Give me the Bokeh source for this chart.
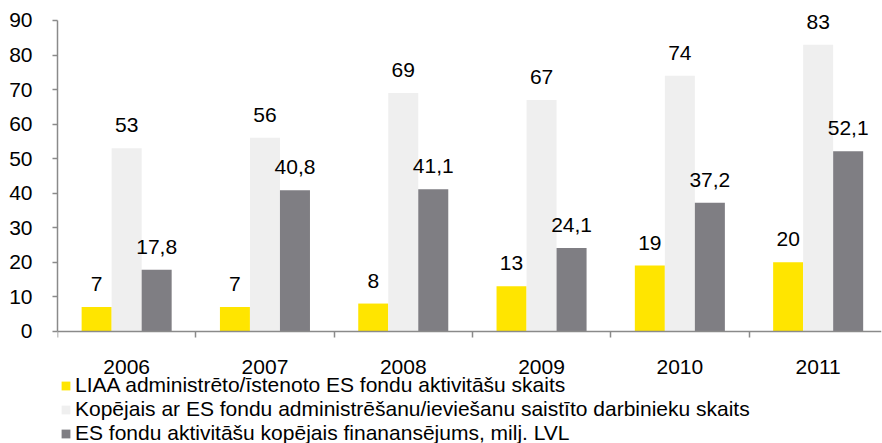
from bokeh.plotting import figure
from bokeh.models import Range1d, FixedTicker, ColumnDataSource, Legend, LegendItem
from bokeh.core.properties import value
from bokeh.embed import file_html
from bokeh.resources import INLINE

years = ["2006", "2007", "2008", "2009", "2010", "2011"]
liaa = [7, 7, 8, 13, 19, 20]
darbinieki = [53, 56, 69, 67, 74, 83]
finansejums = [17.8, 40.8, 41.1, 24.1, 37.2, 52.1]
series_names = [
    "LIAA administrēto/īstenoto ES fondu aktivitāšu skaits",
    "Kopējais ar ES fondu administrēšanu/ieviešanu saistīto darbinieku skaits",
    "ES fondu aktivitāšu kopējais finanansējums, milj. LVL",
]
colors = ["#FFE500", "#EFEFEF", "#7F7E83"]
y_ticks = [0, 10, 20, 30, 40, 50, 60, 70, 80, 90]

FONT = "Liberation Sans"
FS = "21px"
AXIS_COLOR = "#8A8A8A"
bar_w = 0.217

p = figure(width=882, height=443, output_backend="svg", toolbar_location=None,
           x_range=Range1d(0, 5.958), y_range=Range1d(-32.54, 95.79),
           min_border_left=57, min_border_top=0, min_border_bottom=0, min_border_right=1)
p.outline_line_color = None
p.xgrid.visible = False
p.ygrid.visible = False
p.background_fill_color = "white"
p.border_fill_color = "white"

centers = [i + 0.5 for i in range(len(years))]
renderers = []
for k, (vals, col) in enumerate(zip([liaa, darbinieki, finansejums], colors)):
    xs = [c + (k - 1) * bar_w for c in centers]
    labels = [("%g" % v).replace(".", ",") for v in vals]
    src = ColumnDataSource(dict(x=xs, top=vals, lab=labels))
    r = p.vbar(x="x", top="top", width=bar_w, bottom=0, source=src,
               fill_color=col, line_color=None)
    renderers.append(r)
    p.text(x="x", y="top", text="lab", source=src, text_align="center",
           text_baseline="alphabetic", y_offset=-23,
           text_font=value(FONT), text_font_size=FS, text_color="#000000")

# y axis
ya = p.yaxis[0]
ya.ticker = FixedTicker(ticks=y_ticks)
ya.bounds = (0, 90)
ya.axis_line_color = AXIS_COLOR
ya.axis_line_width = 1.5
ya.major_tick_line_color = AXIS_COLOR
ya.major_tick_line_width = 1.5
ya.major_tick_out = 5
ya.major_tick_in = 0
ya.minor_tick_line_color = None
ya.major_label_text_font = FONT
ya.major_label_text_font_size = FS
ya.major_label_text_color = "#000000"
ya.major_label_standoff = 20

# x axis, drawn at y = 0 inside the frame
xa = p.xaxis[0]
xa.fixed_location = 0
xa.ticker = FixedTicker(ticks=centers, minor_ticks=list(range(0, 7)))
xa.major_label_overrides = {c: y for c, y in zip(centers, years)}
xa.axis_line_color = AXIS_COLOR
xa.axis_line_width = 1.5
xa.major_tick_line_color = None
xa.major_tick_out = 0
xa.major_tick_in = 0
xa.minor_tick_line_color = AXIS_COLOR
xa.minor_tick_line_width = 1.5
xa.minor_tick_out = 6
xa.minor_tick_in = 0
xa.major_label_text_font = FONT
xa.major_label_text_font_size = FS
xa.major_label_text_color = "#000000"
xa.major_label_standoff = 23

legend = Legend(items=[LegendItem(label=n, renderers=[r]) for n, r in zip(series_names, renderers)],
                location=(3, -2), orientation="vertical",
                glyph_width=11, glyph_height=11, label_standoff=4,
                label_height=24, spacing=0, padding=0, margin=0,
                border_line_color=None, background_fill_alpha=0,
                label_text_font=FONT, label_text_font_size=FS, label_text_color="#000000")
p.add_layout(legend)

open("out.html", "w").write(file_html(p, INLINE))
